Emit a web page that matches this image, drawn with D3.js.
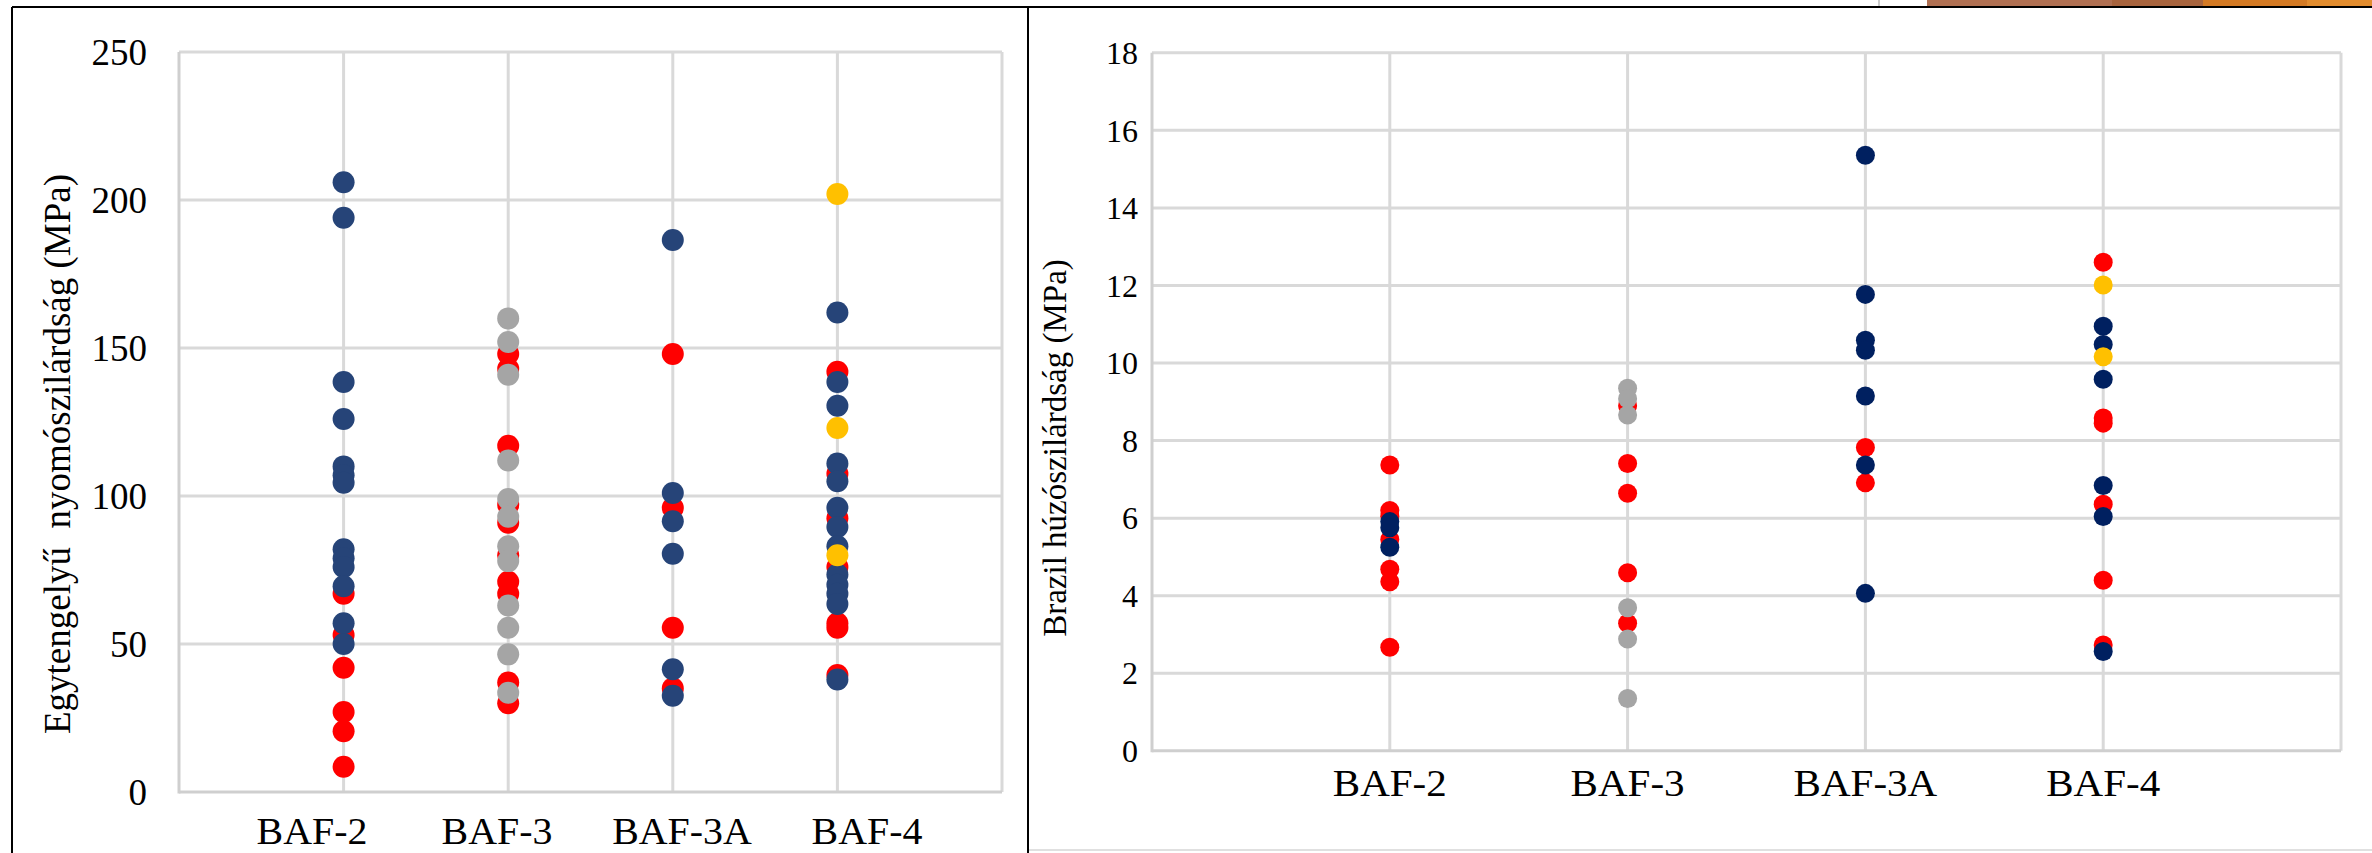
<!DOCTYPE html>
<html>
<head>
<meta charset="utf-8">
<script src="https://cdn.jsdelivr.net/npm/d3@7/dist/d3.min.js"></script>
<style>
  body { margin: 0; background: #fff; }
  svg text { font-family: "Liberation Serif", "Times New Roman", serif; fill: #000; }
</style>
</head>
<body>
<svg id="chart" width="2372" height="853"></svg>
<script>
const categories = ["BAF-2", "BAF-3", "BAF-3A", "BAF-4"];

// left: uniaxial compressive strength (MPa)
const ucsTicks = [0, 50, 100, 150, 200, 250];
const ucsRed = [
  ["BAF-2", [67, 53, 42, 27, 20.5, 8.5]],
  ["BAF-3", [148, 143, 117, 97, 91, 80, 71, 67, 37, 30]],
  ["BAF-3A", [148, 96, 55.5, 35]],
  ["BAF-4", [142, 107.5, 92.5, 76, 57, 55.5, 39.5]],
];
const ucsGrey = [["BAF-3", [160, 152, 141, 112, 99, 93, 83, 78, 63, 55.5, 46.5, 33.5]]];
const ucsBlue = [
  ["BAF-2", [206, 194, 138.5, 126, 110, 107, 104.5, 82, 79, 76, 69.5, 57, 50]],
  ["BAF-3A", [186.5, 101, 91.5, 80.5, 41.5, 32.5]],
  ["BAF-4", [162, 138.5, 130.5, 111, 105, 96, 89.5, 83, 73.5, 70, 67, 63.5, 38]],
];
const ucsYellow = [["BAF-4", [202, 123, 80]]];

// right: Brazilian tensile strength (MPa)
const btsTicks = [0, 2, 4, 6, 8, 10, 12, 14, 16, 18];
const btsRed = [
  ["BAF-2", [7.37, 6.2, 6.05, 5.45, 4.68, 4.36, 2.67]],
  ["BAF-3", [8.9, 7.41, 6.64, 4.59, 3.29]],
  ["BAF-3A", [7.82, 6.91]],
  ["BAF-4", [12.6, 8.58, 8.45, 6.36, 4.4, 2.73]],
];
const btsGrey = [["BAF-3", [9.35, 9.08, 8.66, 3.69, 2.88, 1.35]]];
const btsBlue = [
  ["BAF-2", [5.91, 5.75, 5.25]],
  ["BAF-3A", [15.36, 11.77, 10.59, 10.33, 9.15, 7.37, 4.06]],
  ["BAF-4", [10.95, 10.48, 9.58, 6.84, 6.04, 2.56]],
];
const btsYellow = [["BAF-4", [12.01, 10.16]]];

const svg = d3.select("#chart");

const flatten = (series) =>
  series.flatMap(([cat, values]) => values.map((v) => ({ cat, v })));

const drawPanel = (opt) => {
  const x = d3
    .scalePoint()
    .domain(categories)
    .range([opt.left, opt.right])
    .padding(1);
  const y = d3.scaleLinear().domain([0, opt.max]).range([opt.bottom, opt.top]);
  // category labels are not always centred under their grid line
  const xLabel = opt.labelRange
    ? d3.scalePoint().domain(categories).range(opt.labelRange)
    : x;

  const g = svg.append("g");

  // horizontal grid
  g.selectAll(".hgrid")
    .data(opt.ticks.slice(1))
    .enter()
    .append("line")
    .attr("x1", opt.left)
    .attr("x2", opt.right)
    .attr("y1", (d) => y(d))
    .attr("y2", (d) => y(d))
    .attr("stroke", "#d9d9d9")
    .attr("stroke-width", 3);

  // vertical grid at each category and plot right edge
  g.selectAll(".vgrid")
    .data(categories)
    .enter()
    .append("line")
    .attr("x1", (d) => x(d))
    .attr("x2", (d) => x(d))
    .attr("y1", opt.top)
    .attr("y2", opt.bottom)
    .attr("stroke", "#d9d9d9")
    .attr("stroke-width", 3);
  g.append("line")
    .attr("x1", opt.right)
    .attr("x2", opt.right)
    .attr("y1", opt.top)
    .attr("y2", opt.bottom)
    .attr("stroke", "#d9d9d9")
    .attr("stroke-width", 3);

  // axis lines
  g.append("line")
    .attr("x1", opt.left)
    .attr("x2", opt.left)
    .attr("y1", opt.top)
    .attr("y2", opt.bottom + 1.5)
    .attr("stroke", "#cfcfcf")
    .attr("stroke-width", 3);
  g.append("line")
    .attr("x1", opt.left)
    .attr("x2", opt.right)
    .attr("y1", opt.bottom)
    .attr("y2", opt.bottom)
    .attr("stroke", "#cfcfcf")
    .attr("stroke-width", 3);

  // tick labels
  g.selectAll(".ytick")
    .data(opt.ticks)
    .enter()
    .append("text")
    .attr("x", opt.tickX)
    .attr("y", (d) => y(d))
    .attr("dy", "0.35em")
    .attr("text-anchor", "end")
    .style("font-size", opt.tickSize + "px")
    .text((d) => d);

  g.selectAll(".xtick")
    .data(categories)
    .enter()
    .append("text")
    .attr("transform", (d) => `translate(${xLabel(d)},${opt.labelY}) scale(${opt.labelStretch},1)`)
    .attr("text-anchor", "middle")
    .style("font-size", opt.labelSize + "px")
    .text((d) => d);

  g.append("text")
    .attr("transform", `translate(${opt.titleX},${opt.titleY}) rotate(-90)`)
    .attr("text-anchor", "middle")
    .attr("dy", "0.35em")
    .style("font-size", opt.titleSize + "px")
    .style("white-space", "pre")
    .text(opt.title);

  // points, drawn red -> grey -> blue -> yellow
  opt.series.forEach((s) => {
    g.append("g")
      .selectAll("circle")
      .data(flatten(s.data))
      .enter()
      .append("circle")
      .attr("cx", (d) => x(d.cat))
      .attr("cy", (d) => y(d.v))
      .attr("r", opt.r)
      .attr("fill", s.color);
  });
};

drawPanel({
  left: 179, right: 1002, top: 52, bottom: 792, max: 250,
  ticks: ucsTicks, tickX: 147, tickSize: 37,
  labelY: 844, labelSize: 38, labelStretch: 1.05,
  labelRange: [312, 867],
  title: "Egytengelyű  nyomószilárdság (MPa)",
  titleX: 57, titleY: 454, titleSize: 37,
  r: 11,
  series: [
    { data: ucsRed, color: "#ff0000" },
    { data: ucsGrey, color: "#a5a5a5" },
    { data: ucsBlue, color: "#264478" },
    { data: ucsYellow, color: "#ffc000" },
  ],
});

drawPanel({
  left: 1152, right: 2341, top: 52.8, bottom: 750.8, max: 18,
  ticks: btsTicks, tickX: 1138, tickSize: 32,
  labelY: 796, labelSize: 38, labelStretch: 1.08,
  title: "Brazil húzószilárdság (MPa)",
  titleX: 1054, titleY: 448, titleSize: 33,
  r: 9.5,
  series: [
    { data: btsRed, color: "#ff0000" },
    { data: btsGrey, color: "#a5a5a5" },
    { data: btsBlue, color: "#002060" },
    { data: btsYellow, color: "#ffc000" },
  ],
});

// panel frames and the clipped slide edge at the top
const frame = svg.append("g").attr("stroke", "#000").attr("stroke-width", 2);
frame.append("line").attr("x1", 12).attr("x2", 2372).attr("y1", 7).attr("y2", 7);
frame.append("line").attr("x1", 12).attr("x2", 12).attr("y1", 7).attr("y2", 853);
frame.append("line").attr("x1", 1028).attr("x2", 1028).attr("y1", 7).attr("y2", 853);
svg.append("line")
  .attr("x1", 1029).attr("x2", 2372).attr("y1", 850).attr("y2", 850)
  .attr("stroke", "#e0e0e0").attr("stroke-width", 2);
svg.append("line")
  .attr("x1", 1879).attr("x2", 1879).attr("y1", 0).attr("y2", 6)
  .attr("stroke", "#999").attr("stroke-width", 1);

const edgeBands = [
  { x0: 1927, x1: 2112, color: "#b07052" },
  { x0: 2112, x1: 2203, color: "#a8643e" },
  { x0: 2203, x1: 2307, color: "#d47a24" },
  { x0: 2307, x1: 2372, color: "#e28c2e" },
];
svg.selectAll(".band")
  .data(edgeBands)
  .enter()
  .append("rect")
  .attr("x", (d) => d.x0)
  .attr("y", 0)
  .attr("width", (d) => d.x1 - d.x0)
  .attr("height", 6)
  .attr("fill", (d) => d.color);
</script>
</body>
</html>
